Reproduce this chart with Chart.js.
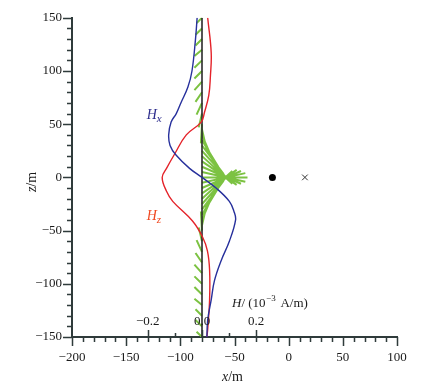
<!DOCTYPE html>
<html>
<head>
<meta charset="utf-8">
<script src="https://cdn.jsdelivr.net/npm/chart.js@4/dist/chart.umd.min.js"></script>
<style>
  html, body { margin: 0; padding: 0; background: #fff; }
  canvas { display: block; }
</style>
</head>
<body>
<canvas id="chart" width="439" height="388"></canvas>
<script>
    // depth samples along the borehole (m) and field values (10^-3 A/m)
    const hxDepth = [150, 130, 100, 85, 70, 60, 52, 40, 30, 21, 8.5, 0, -10, -22.5, -32, -40, -60, -78, -97, -115, -134, -150];
    const hxValue = [-0.018, -0.024, -0.037, -0.052, -0.078, -0.095, -0.114, -0.123, -0.118, -0.096, -0.046, 0.0, 0.052, 0.101, 0.118, 0.124, 0.101, 0.071, 0.046, 0.034, 0.021, 0.018];

    const hzDepth = [150, 117, 95, 77, 61, 52, 40, 22, 8.5, 0, -13, -22.5, -41, -56, -69, -87, -115, -143, -150];
    const hzValue = [0.021, 0.034, 0.031, 0.025, 0.009, -0.003, -0.058, -0.101, -0.131, -0.147, -0.131, -0.108, -0.035, 0.002, 0.020, 0.028, 0.028, 0.021, 0.018];

    // field vectors drawn from the borehole (offsets in m)
    const vecZ  = [150, 140, 130, 120, 110, 100, 90, 80, 70, 60, 50,
                   45, 40, 35, 30, 25, 20, 15, 10, 5, 0, -5, -10, -15, -20, -25, -30, -35, -40, -45,
                   -50, -60, -70, -80, -90, -100, -110, -120, -130, -140, -150];
    const vecDx = [-5, -6, -6, -7, -7, -7, -7, -6, -5, -3, -1,
                   5, 10, 15, 20, 24, 28, 32, 36, 40, 42, 40, 36, 32, 28, 24, 20, 15, 10, 5,
                   -1, -3, -5, -6, -7, -7, -7, -7, -6, -6, -5];
    const vecDz = [-5, -6, -6, -6, -7, -7, -8, -9, -11, -13, -18,
                   -22, -24, -25, -27, -27, -26, -22, -16, -9, 0, 9, 16, 22, 26, 27, 27, 25, 24, 22,
                   18, 13, 11, 9, 8, 7, 7, 6, 6, 6, 5];

    const boreholeX = -80;
    const sourceX = -15;   // black dot
    const receiverX = 15;  // cross

    const xTicks = [-200, -150, -100, -50, 0, 50, 100];
    const zTicks = [-150, -100, -50, 0, 50, 100, 150];
    const hTicks = [-0.2, -0.1, 0.0, 0.1, 0.2];
    const hLabels = ['\u22120.2', '', '0.0', '', '0.2'];

    const FONT = "'Liberation Serif', 'DejaVu Serif', serif";
    const AXIS = '#2f3b3b';
    const minus = v => String(v).replace('-', '\u2212');

    const vecData = [];
    vecZ.forEach((z, i) => {
        vecData.push({ x: boreholeX, y: z });
        vecData.push({ x: boreholeX + vecDx[i], y: z + vecDz[i] });
        vecData.push({ x: null, y: null });
    });

    // extra drawing: minor ticks, H axis, titles and curve labels
    const decor = {
        id: 'decor',
        afterDraw(chart) {
            const ctx = chart.ctx;
            const xs = chart.scales.x, ys = chart.scales.y, hs = chart.scales.h;
            const area = chart.chartArea;
            ctx.save();
            ctx.strokeStyle = AXIS;
            ctx.lineWidth = 1.5;
            ctx.beginPath();
            for (let v = -200; v <= 100; v += 10) {
                const px = Math.round(xs.getPixelForValue(v)) + 0.5;
                const len = v % 50 === 0 ? 9 : 5;
                ctx.moveTo(px, area.bottom); ctx.lineTo(px, area.bottom + len);
            }
            for (let v = -150; v <= 150; v += 10) {
                const py = Math.round(ys.getPixelForValue(v)) + 0.5;
                const len = v % 50 === 0 ? 9 : 5;
                ctx.moveTo(area.left, py); ctx.lineTo(area.left - len, py);
            }
            // H axis ticks point upward from the x axis
            hTicks.forEach((v, i) => {
                const px = Math.round(hs.getPixelForValue(v)) + 0.5;
                const len = hLabels[i] ? 7 : 4;
                ctx.moveTo(px, area.bottom); ctx.lineTo(px, area.bottom - len);
            });
            ctx.stroke();

            ctx.fillStyle = '#1a1a1a';
            ctx.font = '13px ' + FONT;
            ctx.textAlign = 'center';
            ctx.textBaseline = 'middle';
            hTicks.forEach((v, i) => {
                if (hLabels[i]) ctx.fillText(hLabels[i], hs.getPixelForValue(v), area.bottom - 15);
            });

            // H/ (10^-3 A/m)
            let tx = 232, ty = area.bottom - 33;
            ctx.textAlign = 'left';
            ctx.font = 'italic 13px ' + FONT;
            ctx.fillText('H', tx, ty); tx += ctx.measureText('H').width;
            ctx.font = '13px ' + FONT;
            ctx.fillText('/ (10', tx, ty); tx += ctx.measureText('/ (10').width;
            ctx.font = '9px ' + FONT;
            ctx.fillText('\u22123', tx + 0.5, ty - 5); tx += ctx.measureText('\u22123').width + 2;
            ctx.font = '13px ' + FONT;
            ctx.fillText(' A/m)', tx, ty);

            // x/m
            tx = 222; ty = 377;
            ctx.font = 'italic 14px ' + FONT;
            ctx.fillText('x', tx, ty); tx += ctx.measureText('x').width;
            ctx.font = '14px ' + FONT;
            ctx.fillText('/m', tx, ty);

            // z/m rotated
            ctx.save();
            ctx.translate(32, 182);
            ctx.rotate(-Math.PI / 2);
            ctx.textAlign = 'left';
            ctx.font = 'italic 14px ' + FONT;
            const zw = ctx.measureText('z').width;
            ctx.font = '14px ' + FONT;
            const w = zw + ctx.measureText('/m').width;
            ctx.font = 'italic 14px ' + FONT;
            ctx.fillText('z', -w / 2, 0);
            ctx.font = '14px ' + FONT;
            ctx.fillText('/m', -w / 2 + zw, 0);
            ctx.restore();

            // curve labels
            const label = (txt, sub, color, xv, zv) => {
                const px = xs.getPixelForValue(xv), py = ys.getPixelForValue(zv);
                ctx.fillStyle = color;
                ctx.textAlign = 'left';
                ctx.font = 'italic 14px ' + FONT;
                ctx.fillText(txt, px, py);
                const ww = ctx.measureText(txt).width;
                ctx.font = 'italic 11px ' + FONT;
                ctx.fillText(sub, px + ww, py + 3);
            };
            label('H', 'x', '#2c2c8c', -131, 58);
            label('H', 'z', '#f0471f', -131, -37);
            ctx.restore();
        }
    };

    const ctx = document.getElementById('chart').getContext('2d');
    new Chart(ctx, {
        type: 'line',
        data: {
            datasets: [
                {
                    label: 'source', data: [{ x: sourceX, y: 0 }], showLine: false,
                    pointRadius: 3.5, pointBackgroundColor: '#000', pointBorderColor: '#000', pointBorderWidth: 0
                },
                {
                    label: 'receiver', data: [{ x: receiverX, y: 0 }], showLine: false,
                    pointStyle: 'crossRot', pointRadius: 4, pointBorderColor: '#333', pointBorderWidth: 1
                },
                {
                    label: 'Hx', xAxisID: 'h',
                    data: hxDepth.map((z, i) => ({ x: hxValue[i], y: z })),
                    borderColor: '#27309c', borderWidth: 1.4, pointRadius: 0, tension: 0.4, fill: false
                },
                {
                    label: 'Hz', xAxisID: 'h',
                    data: hzDepth.map((z, i) => ({ x: hzValue[i], y: z })),
                    borderColor: '#e4232a', borderWidth: 1.4, pointRadius: 0, tension: 0.4, fill: false
                },
                {
                    label: 'borehole',
                    data: [{ x: boreholeX, y: -150 }, { x: boreholeX, y: 150 }],
                    borderColor: '#2a2a2a', borderWidth: 1.6, pointRadius: 0
                },
                {
                    label: 'vectors', data: vecData, spanGaps: false,
                    borderColor: '#7cc242', borderWidth: 2, pointRadius: 0, tension: 0
                }
            ]
        },
        options: {
            responsive: false,
            animation: false,
            devicePixelRatio: 1,
            layout: { padding: { left: 0, right: 42, top: 14, bottom: 0 } },
            plugins: { legend: { display: false }, tooltip: { enabled: false } },
            scales: {
                x: {
                    type: 'linear', min: -200, max: 100,
                    afterFit: s => { s.height = 51; },
                    afterBuildTicks: s => { s.ticks = xTicks.map(v => ({ value: v })); },
                    grid: { display: false, drawTicks: false },
                    border: { display: true, color: AXIS, width: 2 },
                    ticks: { padding: 13, maxRotation: 0, autoSkip: false, color: '#1a1a1a', font: { family: FONT, size: 13 }, callback: v => minus(v) }
                },
                h: {
                    type: 'linear', display: false,
                    min: (-200 - boreholeX) / 250, max: (100 - boreholeX) / 250
                },
                y: {
                    type: 'linear', min: -150, max: 150,
                    afterFit: s => { s.width = 72; },
                    afterBuildTicks: s => { s.ticks = zTicks.map(v => ({ value: v })); },
                    grid: { display: false, drawTicks: false },
                    border: { display: true, color: AXIS, width: 2 },
                    ticks: { padding: 10, autoSkip: false, color: '#1a1a1a', font: { family: FONT, size: 13 }, callback: v => minus(v) }
                }
            }
        },
        plugins: [decor]
    });
</script>
</body>
</html>
